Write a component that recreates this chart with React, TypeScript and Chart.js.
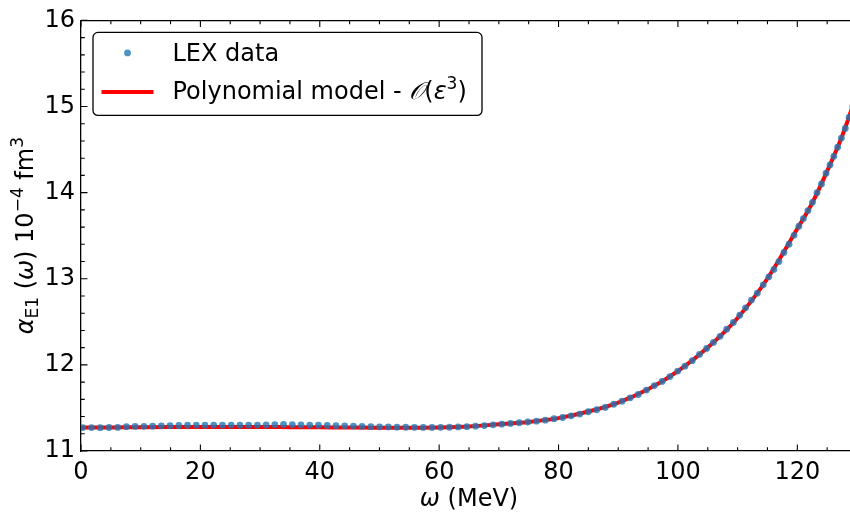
import React, { useEffect, useRef } from 'react';
import { Chart, registerables } from 'chart.js';
Chart.register(...registerables);

// ---- data ----
const lexOmega = [
  0.30, 1.76, 3.22, 4.69, 6.15, 7.61, 9.07, 10.54, 12.00, 13.46,
  14.92, 16.39, 17.85, 19.31, 20.77, 22.23, 23.70, 25.16, 26.62, 28.08,
  29.55, 31.01, 32.47, 33.93, 35.40, 36.86, 38.32, 39.78, 41.24, 42.71,
  44.17, 45.63, 47.09, 48.56, 50.02, 51.48, 52.94, 54.41, 55.87, 57.33,
  58.79, 60.26, 61.72, 63.18, 64.64, 66.10, 67.57, 69.03, 70.49, 71.95,
  73.41, 74.86, 76.32, 77.78, 79.23, 80.68, 82.11, 83.55, 84.98, 86.40,
  87.82, 89.25, 90.64, 92.00, 93.36, 94.72, 96.04, 97.35, 98.66, 99.97,
  101.18, 102.40, 103.61, 104.82, 105.95, 107.06, 108.17, 109.28, 110.35, 111.33,
  112.32, 113.30, 114.29, 115.23, 116.08, 116.92, 117.76, 118.61, 119.45, 120.26,
  121.02, 121.78, 122.54, 123.30, 124.05, 124.81, 125.48, 126.12, 126.76, 127.39,
  128.03, 128.67, 129.30,
];
const lexAlpha = [
  11.272, 11.272, 11.271, 11.273, 11.274, 11.283, 11.285, 11.286, 11.288, 11.292,
  11.294, 11.296, 11.300, 11.301, 11.300, 11.301, 11.300, 11.301, 11.299, 11.300,
  11.301, 11.303, 11.306, 11.309, 11.307, 11.303, 11.301, 11.300, 11.297, 11.294,
  11.292, 11.289, 11.286, 11.283, 11.281, 11.279, 11.277, 11.276, 11.275, 11.274,
  11.274, 11.275, 11.276, 11.279, 11.283, 11.288, 11.295, 11.304, 11.312, 11.320,
  11.328, 11.337, 11.346, 11.358, 11.375, 11.389, 11.409, 11.429, 11.456, 11.479,
  11.506, 11.543, 11.578, 11.617, 11.656, 11.707, 11.760, 11.808, 11.864, 11.928,
  11.985, 12.049, 12.121, 12.191, 12.261, 12.331, 12.415, 12.492, 12.576, 12.663,
  12.752, 12.833, 12.929, 13.023, 13.108, 13.200, 13.305, 13.401, 13.504, 13.610,
  13.699, 13.792, 13.888, 13.999, 14.101, 14.225, 14.323, 14.422, 14.527, 14.634,
  14.745, 14.874, 15.000,
];
const modelOmega = [
  0, 5, 10, 15, 20, 25, 30, 35, 40, 45, 50, 55, 60, 65, 70, 75, 80, 85, 90, 95,
  100, 105, 110, 115, 120, 122.5, 125, 127.5, 130,
];
const modelAlpha = [
  11.272, 11.274, 11.277, 11.279, 11.280, 11.280, 11.279, 11.277, 11.275, 11.272,
  11.270, 11.270, 11.274, 11.285, 11.310, 11.338, 11.382, 11.458, 11.563, 11.717,
  11.928, 12.202, 12.545, 13.003, 13.580, 13.880, 14.250, 14.655, 15.150,
];
const seriesNames = ['LEX data', 'Polynomial model - 𝒪(ε³)'];
const xRange = [0, 130];
const yRange = [11, 16];
const xMajorStep = 20;
const xMinorStep = 5;
const yMajorStep = 1;
const yMinorStep = 0.2;

// ---- styles ----
const FAM = '"DejaVu Sans", sans-serif';
const SIZE = 24;
const fBase = `${SIZE}px ${FAM}`;
const fItal = `italic ${SIZE}px ${FAM}`;
const fSmall = `${Math.round(SIZE * 0.7)}px ${FAM}`;
const DOT = 'rgba(31,119,180,0.8)';
const RED = '#ff0000';

type Piece = { t: string; f: string; dy?: number };

function richWidth(ctx: CanvasRenderingContext2D, pieces: Piece[]) {
  let w = 0;
  for (const p of pieces) {
    ctx.font = p.f;
    w += ctx.measureText(p.t).width;
  }
  return w;
}
function drawRich(ctx: CanvasRenderingContext2D, pieces: Piece[], x: number, y: number) {
  let cx = x;
  for (const p of pieces) {
    ctx.font = p.f;
    ctx.fillText(p.t, cx, y + (p.dy || 0));
    cx += ctx.measureText(p.t).width;
  }
}

const yTitle: Piece[] = [
  { t: 'α', f: fItal },
  { t: 'E1', f: fSmall, dy: 5 },
  { t: ' (', f: fBase },
  { t: 'ω', f: fItal },
  { t: ')', f: fBase },
  { t: ' 10', f: fBase },
  { t: '−4', f: fSmall, dy: -10 },
  { t: ' fm', f: fBase },
  { t: '3', f: fSmall, dy: -10 },
];
const xTitle: Piece[] = [
  { t: 'ω', f: fItal },
  { t: ' (MeV)', f: fBase },
];
const modelLegend: Piece[] = [
  { t: 'Polynomial model - ', f: fBase },
  { t: '𝒪', f: fItal },
  { t: '(', f: fBase },
  { t: 'ε', f: fItal },
  { t: '3', f: fSmall, dy: -10 },
  { t: ')', f: fBase },
];

const decor = {
  id: 'decor',
  afterDraw(chart: any) {
    const { ctx, chartArea: a, scales } = chart;
    const xs = scales.x;
    const ys = scales.y;
    ctx.save();
    // inward ticks
    ctx.strokeStyle = '#000';
    ctx.lineWidth = 1.1;
    ctx.beginPath();
    const nx = Math.round((xRange[1] - xRange[0]) / xMinorStep);
    for (let i = 0; i <= nx; i++) {
      const v = xRange[0] + i * xMinorStep;
      const p = xs.getPixelForValue(v);
      const major = Math.abs(v / xMajorStep - Math.round(v / xMajorStep)) < 1e-6;
      const len = major ? 6.5 : 3.8;
      ctx.moveTo(p, a.bottom);
      ctx.lineTo(p, a.bottom - len);
      ctx.moveTo(p, a.top);
      ctx.lineTo(p, a.top + len);
    }
    const ny = Math.round((yRange[1] - yRange[0]) / yMinorStep);
    for (let i = 0; i <= ny; i++) {
      const v = yRange[0] + i * yMinorStep;
      const p = ys.getPixelForValue(v);
      const major = Math.abs(v / yMajorStep - Math.round(v / yMajorStep)) < 1e-6;
      const len = major ? 6.5 : 3.8;
      ctx.moveTo(a.left, p);
      ctx.lineTo(a.left + len, p);
      ctx.moveTo(a.right, p);
      ctx.lineTo(a.right - len, p);
    }
    ctx.stroke();

    ctx.fillStyle = '#000';
    ctx.textBaseline = 'alphabetic';
    ctx.textAlign = 'left';
    // x title
    const xw = richWidth(ctx, xTitle);
    drawRich(ctx, xTitle, (a.left + a.right) / 2 - xw / 2, a.bottom + 55);
    // y title
    ctx.save();
    ctx.translate(a.left - 48, (a.top + a.bottom) / 2);
    ctx.rotate(-Math.PI / 2);
    const yw = richWidth(ctx, yTitle);
    drawRich(ctx, yTitle, -yw / 2, 0);
    ctx.restore();

    // legend
    const bl = a.left + 12, bt = a.top + 12, br = a.left + 401, bb = a.top + 95;
    ctx.beginPath();
    ctx.roundRect(bl, bt, br - bl, bb - bt, 5);
    ctx.fillStyle = 'rgba(255,255,255,0.85)';
    ctx.fill();
    ctx.strokeStyle = '#000';
    ctx.lineWidth = 1.3;
    ctx.stroke();

    ctx.fillStyle = DOT;
    ctx.beginPath();
    ctx.arc(a.left + 46.5, bt + 20.5, 3.4, 0, Math.PI * 2);
    ctx.fill();
    ctx.strokeStyle = RED;
    ctx.lineWidth = 4;
    ctx.beginPath();
    ctx.moveTo(a.left + 20.5, bt + 59.5);
    ctx.lineTo(a.left + 72.5, bt + 59.5);
    ctx.stroke();

    ctx.fillStyle = '#000';
    ctx.font = fBase;
    ctx.fillText(seriesNames[0], a.left + 91.5, bt + 28.5);
    drawRich(ctx, modelLegend, a.left + 91.5, bt + 67);
    ctx.restore();
  },
};

export default function App() {
  const ref = useRef<HTMLCanvasElement>(null);
  useEffect(() => {
    const canvas = ref.current!;
    const tickFont = { family: FAM, size: SIZE };
    const axisBase = (pos: string) => ({
      type: 'linear' as const,
      position: pos,
      grid: { display: true, drawOnChartArea: false, drawTicks: false },
      border: { display: true, color: '#000', width: 1.3 },
    });
    const chart = new Chart(canvas, {
      type: 'scatter',
      data: {
        datasets: [
          {
            type: 'scatter',
            label: seriesNames[0],
            data: lexOmega.map((x, i) => ({ x, y: lexAlpha[i] })),
            pointRadius: 3.4,
            pointHoverRadius: 3.4,
            pointBackgroundColor: DOT,
            backgroundColor: DOT,
            pointBorderWidth: 0,
            borderWidth: 0,
            order: 0,
          },
          {
            type: 'line',
            label: seriesNames[1],
            data: modelOmega.map((x, i) => ({ x, y: modelAlpha[i] })),
            borderColor: RED,
            borderWidth: 4,
            pointRadius: 0,
            cubicInterpolationMode: 'monotone',
            fill: false,
            order: 1,
          },
        ] as any,
      },
      options: {
        responsive: false,
        animation: false,
        events: [],
        layout: { padding: { left: 0, right: 13, top: 0, bottom: 0 } },
        plugins: { legend: { display: false }, tooltip: { enabled: false } },
        scales: {
          x: {
            ...axisBase('bottom'),
            min: xRange[0],
            max: xRange[1],
            afterFit: (s: any) => { s.height = 63; },
            ticks: { stepSize: xMajorStep, includeBounds: false, color: '#000', font: tickFont, padding: 7, maxRotation: 0 },
          },
          xTop: {
            ...axisBase('top'),
            min: xRange[0],
            max: xRange[1],
            afterFit: (s: any) => { s.height = 17; },
            ticks: { display: false },
          },
          y: {
            ...axisBase('left'),
            min: yRange[0],
            max: yRange[1],
            afterFit: (s: any) => { s.width = 81; },
            ticks: { stepSize: yMajorStep, color: '#000', font: tickFont, padding: 6 },
          },
          yRight: {
            ...axisBase('right'),
            min: yRange[0],
            max: yRange[1],
            afterFit: (s: any) => { s.width = 0; },
            ticks: { display: false },
          },
        } as any,
      },
      plugins: [decor],
    });
    return () => chart.destroy();
  }, []);
  return (
    <div style={{ position: 'absolute', left: 0, top: 0, width: 850, height: 514, overflow: 'hidden', background: '#fff' }}>
      <canvas ref={ref} width={870} height={514} style={{ display: 'block' }} />
    </div>
  );
}
